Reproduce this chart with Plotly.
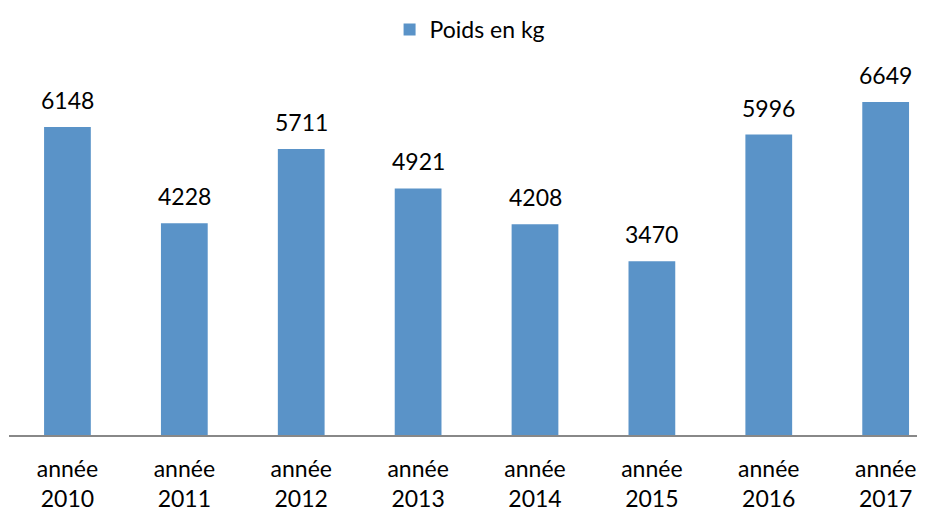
import plotly.graph_objects as go

categories = ["année<br>2010", "année<br>2011", "année<br>2012", "année<br>2013",
              "année<br>2014", "année<br>2015", "année<br>2016", "année<br>2017"]
values = [6148, 4228, 5711, 4921, 4208, 3470, 5996, 6649]
series_name = "Poids en kg"

FONT = "Lato, Carlito, Calibri, sans-serif"
BAR = "#5A93C8"

fig = go.Figure()
fig.add_trace(go.Bar(
    x=list(range(len(categories))), y=values, name=series_name,
    marker=dict(color=BAR, line=dict(width=0)),
    showlegend=True,
))

for i, v in enumerate(values):
    fig.add_annotation(x=i, y=v, text=str(v), showarrow=False,
                       yanchor="bottom", yshift=11,
                       font=dict(family=FONT, size=23, color="#000000"))

fig.update_layout(
    width=925, height=513,
    margin=dict(l=1, r=0, t=52, b=86),
    plot_bgcolor="white", paper_bgcolor="white",
    bargap=0.6,
    font=dict(family=FONT, size=23, color="#000000"),
    legend=dict(orientation="h", x=0.499, xanchor="center", y=1.0, yanchor="top",
                yref="container", font=dict(family=FONT, size=23)),
    xaxis=dict(range=[-0.5, 7.405], tickmode="array",
               tickvals=list(range(len(categories))), ticktext=categories,
               showline=True, linecolor="#888888", linewidth=2,
               showgrid=False, zeroline=False,
               ticks="outside", ticklen=12, tickcolor="rgba(0,0,0,0)",
               tickfont=dict(family=FONT, size=23)),
    yaxis=dict(range=[0, 7485], visible=False, showgrid=False, zeroline=False),
)

fig.write_html("out.html")
